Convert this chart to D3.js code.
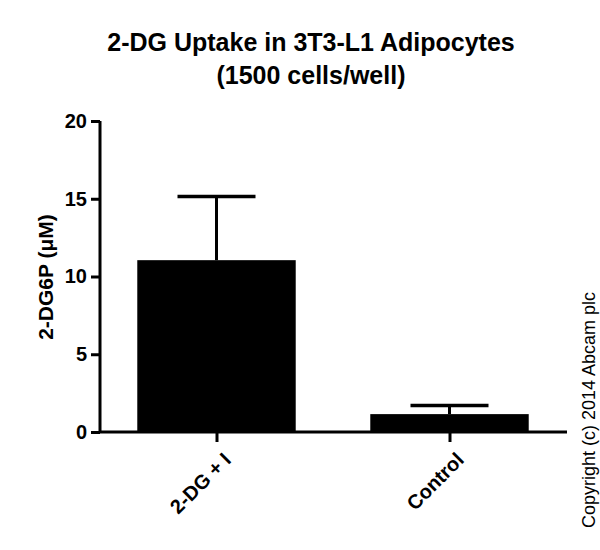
<!DOCTYPE html><html><head><script src="https://cdn.jsdelivr.net/npm/d3@7"></script>
<style>body{margin:0;background:#fff}text{font-family:"Liberation Sans",Arial,sans-serif}</style></head><body>
<svg width="600" height="550"></svg>
<script>
const categories=["2-DG + I","Control"];
const means=[11.05,1.15];
const errors=[4.1,0.55];
const yTicks=[0,5,10,15,20];
const svg=d3.select("svg");
const x=d3.scalePoint().domain(categories).range([100,566]).padding(0.5);
const y=d3.scaleLinear().domain([0,20]).range([432,121]);
const bw=x.step()*0.68;
categories.forEach((c,i)=>{
  svg.append("rect").attr("x",x(c)-bw/2).attr("width",bw).attr("y",y(means[i])).attr("height",y(0)-y(means[i])).attr("fill","#000");
  svg.append("line").attr("x1",x(c)).attr("x2",x(c)).attr("y1",y(means[i])).attr("y2",y(means[i]+errors[i])).attr("stroke","#000").attr("stroke-width",3);
  svg.append("line").attr("x1",x(c)-39).attr("x2",x(c)+39).attr("y1",y(means[i]+errors[i])).attr("y2",y(means[i]+errors[i])).attr("stroke","#000").attr("stroke-width",3.5);
});
const ya=svg.append("g").attr("transform","translate(100,0)").call(d3.axisLeft(y).tickValues(yTicks).tickSize(9).tickPadding(4));
ya.select(".domain").attr("d","M0,432V121").attr("stroke-width",3);
ya.selectAll(".tick line").attr("stroke-width",3);
ya.selectAll("text").attr("font-size",20).attr("font-weight","bold").attr("font-family","Liberation Sans, Arial");
const xa=svg.append("g").attr("transform","translate(0,432)").call(d3.axisBottom(x).tickSize(10).tickSizeOuter(0));
xa.select(".domain").attr("d","M100,0H567").attr("stroke-width",3);
xa.selectAll(".tick line").attr("stroke-width",3);
xa.selectAll("text").attr("font-size",20).attr("font-weight","bold").attr("font-family","Liberation Sans, Arial")
  .attr("text-anchor","end").attr("dy",0).attr("transform","translate(6,20) rotate(-45)");
svg.append("text").attr("x",311).attr("y",51).attr("text-anchor","middle").attr("font-size",25).attr("font-weight","bold").text("2-DG Uptake in 3T3-L1 Adipocytes");
svg.append("text").attr("x",311).attr("y",84).attr("text-anchor","middle").attr("font-size",25).attr("font-weight","bold").text("(1500 cells/well)");
svg.append("text").attr("transform","translate(53,277) rotate(-90)").attr("text-anchor","middle").attr("font-size",21).attr("font-weight","bold").text("2-DG6P (μM)");
svg.append("text").attr("transform","translate(595,410) rotate(-90)").attr("text-anchor","middle").attr("font-size",18).text("Copyright (c) 2014 Abcam plc");
</script></body></html>
